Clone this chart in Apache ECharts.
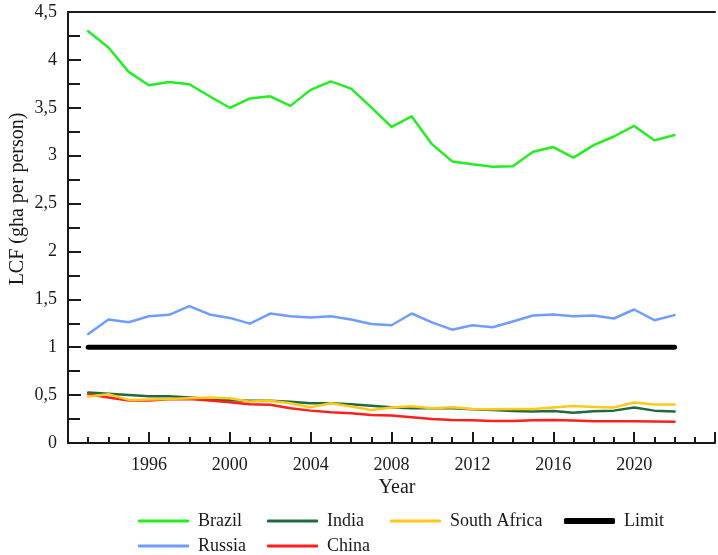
<!DOCTYPE html>
<html>
<head>
<meta charset="utf-8">
<script src="https://cdn.jsdelivr.net/npm/echarts@6/dist/echarts.min.js"></script>
<style>
  html, body { margin: 0; padding: 0; background: #fff; }
  #chart { width: 718px; height: 555px; }
</style>
</head>
<body>
<div id="chart"></div>
<script>
// Land capacity footprint per person, 1993-2022
const years = [1993, 1994, 1995, 1996, 1997, 1998, 1999, 2000, 2001, 2002,
               2003, 2004, 2005, 2006, 2007, 2008, 2009, 2010, 2011, 2012,
               2013, 2014, 2015, 2016, 2017, 2018, 2019, 2020, 2021, 2022];

const brazil = [4.30, 4.13, 3.875, 3.736, 3.77, 3.746, 3.62, 3.50, 3.597, 3.62,
                3.52, 3.687, 3.775, 3.70, 3.505, 3.30, 3.41, 3.12, 2.94, 2.91,
                2.885, 2.89, 3.04, 3.09, 2.98, 3.11, 3.20, 3.31, 3.16, 3.215];

const russia = [1.137, 1.289, 1.26, 1.324, 1.338, 1.43, 1.342, 1.306, 1.246, 1.352,
                1.324, 1.31, 1.324, 1.289, 1.243, 1.229, 1.352, 1.26, 1.183, 1.229,
                1.208, 1.268, 1.331, 1.342, 1.324, 1.331, 1.30, 1.394, 1.282, 1.335];

const india = [0.526, 0.513, 0.502, 0.489, 0.489, 0.474, 0.46, 0.447, 0.44, 0.44,
               0.43, 0.415, 0.415, 0.405, 0.389, 0.373, 0.363, 0.363, 0.363, 0.352,
               0.345, 0.335, 0.328, 0.335, 0.317, 0.331, 0.338, 0.37, 0.338, 0.328];

const china = [0.51, 0.474, 0.443, 0.443, 0.457, 0.46, 0.443, 0.425, 0.405, 0.40,
               0.363, 0.338, 0.321, 0.31, 0.293, 0.286, 0.269, 0.251, 0.241, 0.238,
               0.23, 0.23, 0.238, 0.241, 0.234, 0.227, 0.227, 0.227, 0.224, 0.223];

const southAfrica = [0.485, 0.51, 0.45, 0.455, 0.46, 0.467, 0.474, 0.467, 0.432, 0.44,
                     0.415, 0.373, 0.415, 0.38, 0.345, 0.37, 0.384, 0.363, 0.373, 0.356,
                     0.352, 0.356, 0.356, 0.37, 0.387, 0.377, 0.37, 0.422, 0.401, 0.401];

const limit = [1, 1, 1, 1, 1, 1, 1, 1, 1, 1,
               1, 1, 1, 1, 1, 1, 1, 1, 1, 1,
               1, 1, 1, 1, 1, 1, 1, 1, 1, 1];

const FONT = 'Liberation Serif';
const INK = '#1a1a1a';

const pairs = vals => years.map((y, i) => [y, vals[i]]);

function lineSeries(name, vals, color, width) {
  return {
    name: name,
    type: 'line',
    data: pairs(vals),
    symbol: 'none',
    showSymbol: false,
    smooth: false,
    color: color,
    itemStyle: { color: color },
    lineStyle: { color: color, width: width, cap: 'round', join: 'round' },
    z: name === 'Limit' ? 3 : 4
  };
}

// one legend entry per component so the two rows line up in columns
function legendItem(name, left, top, thick) {
  return {
    data: [name],
    left: left,
    top: top,
    icon: 'roundRect',
    itemWidth: 51,
    itemHeight: thick,
    textStyle: { fontFamily: FONT, fontSize: 18, color: INK, padding: [0, 0, 0, 4] }
  };
}

const chart = echarts.init(document.getElementById('chart'), null, { renderer: 'canvas' });

chart.setOption({
  animation: false,
  backgroundColor: '#ffffff',
  grid: { left: 68, top: 12, width: 680, height: 431, containLabel: false },
  xAxis: [
    {
      type: 'value',
      min: 1992,
      max: 2024,
      interval: 4,
      axisLine: { show: true, lineStyle: { color: INK, width: 2 } },
      axisTick: { show: true, inside: true, length: 11, lineStyle: { color: INK, width: 2 } },
      minorTick: { show: true, splitNumber: 4, length: 6, lineStyle: { color: INK, width: 2 } },
      splitLine: { show: false },
      axisLabel: {
        fontFamily: FONT, fontSize: 18, color: INK, margin: 13,
        formatter: v => (v >= 1996 && v <= 2020) ? String(v) : ''
      }
    },
    {
      type: 'value',
      position: 'top',
      min: 1992,
      max: 2024,
      axisLine: { show: true, lineStyle: { color: INK, width: 2 } },
      axisTick: { show: false },
      axisLabel: { show: false },
      splitLine: { show: false }
    }
  ],
  yAxis: {
    type: 'value',
    min: 0,
    max: 4.5,
    interval: 0.5,
    axisLine: { show: true, lineStyle: { color: INK, width: 2 } },
    axisTick: { show: true, inside: true, length: 13, lineStyle: { color: INK, width: 2 } },
    minorTick: { show: true, splitNumber: 2, length: 12, lineStyle: { color: INK, width: 2 } },
    splitLine: { show: false },
    axisLabel: {
      fontFamily: FONT, fontSize: 18, color: INK, margin: 11,
      formatter: v => String(v).replace('.', ',')
    }
  },
  legend: [
    legendItem('Brazil', 133, 507, 3),
    legendItem('India', 262, 507, 3),
    legendItem('South Africa', 385, 507, 3),
    legendItem('Limit', 559, 507, 6),
    legendItem('Russia', 133, 532, 3),
    legendItem('China', 262, 532, 3)
  ],
  graphic: [
    {
      type: 'text',
      x: 18, y: 199,
      rotation: Math.PI / 2,
      style: {
        text: 'LCF (gha per person)',
        font: '20px "Liberation Serif"',
        fill: INK,
        align: 'center',
        verticalAlign: 'middle'
      }
    },
    {
      type: 'text',
      x: 397, y: 488,
      style: {
        text: 'Year',
        font: '20px "Liberation Serif"',
        fill: INK,
        align: 'center',
        verticalAlign: 'middle'
      }
    }
  ],
  series: [
    lineSeries('Brazil', brazil, '#22ee22', 2.5),
    lineSeries('Russia', russia, '#6f9dff', 2.5),
    lineSeries('India', india, '#1e6b42', 2.5),
    lineSeries('China', china, '#ff1f1f', 2.5),
    lineSeries('South Africa', southAfrica, '#ffc81a', 2.5),
    lineSeries('Limit', limit, '#000000', 5)
  ]
});
</script>
</body>
</html>
